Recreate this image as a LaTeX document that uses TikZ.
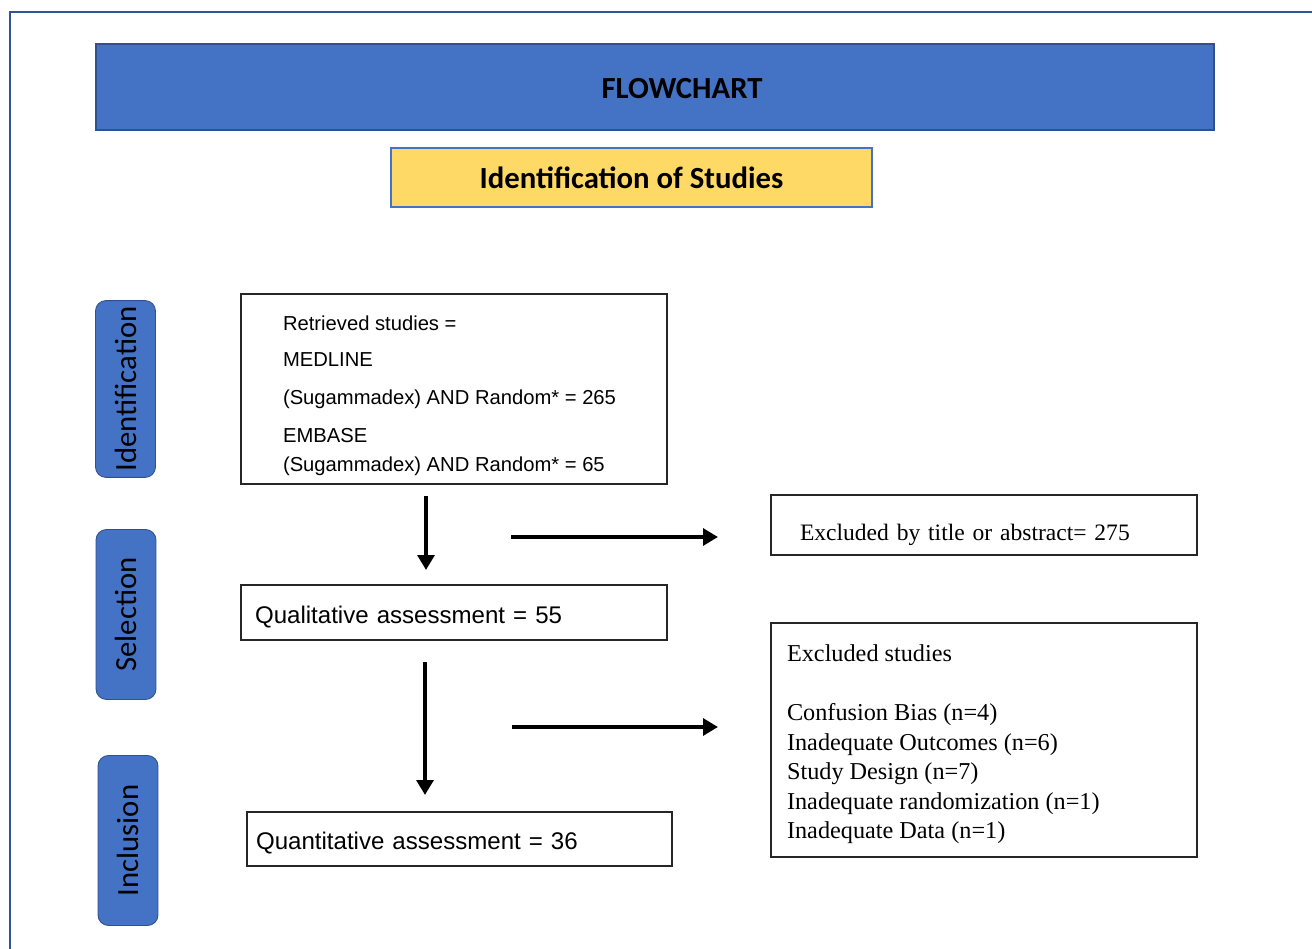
\documentclass[tikz,border=0pt]{standalone}
\usepackage{fontspec}
\setmainfont{Liberation Serif}
\setsansfont{Liberation Sans}
\newfontfamily\calibri{Carlito}
\usetikzlibrary{arrows.meta,positioning}
\definecolor{Frame}{HTML}{2F5597}
\definecolor{Banner}{HTML}{4472C4}
\definecolor{BannerEdge}{HTML}{2F528F}
\definecolor{Gold}{HTML}{FFD966}
\definecolor{Ink}{HTML}{262626}
\newcommand{\lowered}[2]{\raisebox{-#1}[\height][\depth]{#2}}
\begin{document}
\begin{tikzpicture}[x=0.02cm,y=-0.02cm,
  banner/.style={draw=BannerEdge,fill=Banner,line width=0.9pt,minimum width=22.36cm,minimum height=1.72cm,font=\calibri\bfseries\fontsize{17.5}{20}\selectfont},
  title/.style={draw=Banner,fill=Gold,line width=0.8pt,minimum width=9.62cm,minimum height=1.18cm,font=\calibri\bfseries\fontsize{17.5}{20}\selectfont},
  phase/.style={draw=BannerEdge,fill=Banner,line width=0.5pt,rounded corners=6pt,rotate=90,minimum width=3.4cm,minimum height=1.2cm,font=\calibri\fontsize{17.5}{20}\selectfont},
  sbox/.style={draw=Ink,line width=0.8pt,align=left,font=\sffamily\fontsize{13.7}{16}\selectfont},
  tbox/.style={draw=Ink,line width=0.8pt,align=left,font=\rmfamily\fontsize{13.8}{16.8}\selectfont},
  arrow/.style={draw=black,line width=2.3pt,-{Triangle[length=8.5pt,width=9.5pt]}}
]
\useasboundingbox (0,0) rectangle (1312,949);
\draw[Frame,line width=0.9pt] (10,949) -- (10,12) -- (1312,12);
\node[banner] (flow) at (655,87) {\lowered{0.04cm}{\hspace*{1.08cm}FLOWCHART}};
\node[title] (ident) at (631.5,177.5) {Identification of Studies};
\node[phase] (pid) at (125.5,389) {Identification};
\node[phase] (psel) at (126,614.5) {Selection};
\node[phase] (pinc) at (128,840.5) {Inclusion};
\node[sbox,font=\sffamily\fontsize{11.5}{16.5}\selectfont,inner xsep=0pt,minimum width=8.52cm,minimum height=3.8cm] (ret) at (454,389)
  {\lowered{0.14cm}{\parbox{6.84cm}{\raggedright Retrieved studies =\\[4pt] MEDLINE\\[5.1pt] (Sugammadex) AND Random* = 265\\[5.1pt] EMBASE\\ (Sugammadex) AND Random* = 65}}};
\node[sbox,inner xsep=0.28cm,text width=7.96cm,minimum height=1.1cm] (qual) at (454,612.5) {\lowered{0.1cm}{Qualitative assessment = 55}};
\node[sbox,inner xsep=0.18cm,text width=8.14cm,minimum height=1.08cm] (quan) at (459.5,839) {\lowered{0.08cm}{Quantitative assessment = 36}};
\node[tbox,font=\rmfamily\fontsize{13.4}{16.8}\selectfont,inner xsep=0.58cm,text width=7.36cm,minimum height=1.2cm] (exta) at (984,525) {\lowered{0.2cm}{Excluded by title or abstract= 275}};
\node[tbox,inner xsep=0pt,minimum width=8.52cm,minimum height=4.68cm] (extb) at (984,740)
  {\lowered{0.09cm}{\parbox{7.88cm}{\raggedright Excluded studies\\[16.8pt] Confusion Bias (n=4)\\ Inadequate Outcomes (n=6)\\ Study Design (n=7)\\ Inadequate randomization (n=1)\\ Inadequate Data (n=1)}}};
\coordinate (d1a) at (426,496);
\coordinate (d1b) at (426,570);
\coordinate (r1a) at (511,537);
\coordinate (r1b) at (718,537);
\coordinate (d2a) at (425,662);
\coordinate (d2b) at (425,795);
\coordinate (r2a) at (512,727);
\coordinate (r2b) at (718,727);
\draw[arrow] (d1a) -- (d1b);
\draw[arrow] (r1a) -- (r1b);
\draw[arrow] (d2a) -- (d2b);
\draw[arrow] (r2a) -- (r2b);
\end{tikzpicture}
\end{document}
